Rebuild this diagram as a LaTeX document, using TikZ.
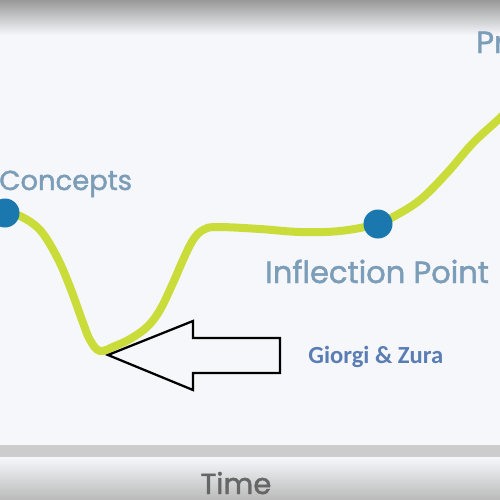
\documentclass[tikz,border=0pt]{standalone}
\usepackage{fontspec}
\usepackage{xcolor}
\usetikzlibrary{positioning}
\newfontfamily\labelfont{Poppins}[FakeBold=1.5]
\newfontfamily\notefont{Carlito}
\definecolor{paper}{HTML}{F5F7FB}
\definecolor{curvegreen}{HTML}{CADC3A}
\definecolor{dotblue}{HTML}{1A78AE}
\definecolor{labelblue}{HTML}{7B9DB7}
\definecolor{noteblue}{HTML}{5A7DB4}

\begin{document}
\begin{tikzpicture}[
  x=0.2mm, y=-0.2mm,
  phase/.style={inner sep=0, anchor=base west, text=labelblue, font=\labelfont\fontsize{17.4}{19}\selectfont},
  dot/.style={circle, fill=dotblue, inner sep=0, minimum size=5.8mm},
  curve/.style={curvegreen, line width=1.6mm, line cap=round},
  blockarrow/.style={draw=black, fill=paper, line width=0.45mm, line join=miter}
]
\useasboundingbox (0,0) rectangle (500,500);
\clip (0,0) rectangle (500,500);
% background
\fill[paper] (0,0) rectangle (500,500);
\shade[top color=black!40, bottom color=paper] (0,0) rectangle (500,35);
\fill[black!20] (0,445) rectangle (500,457);
\shade[top color=paper, bottom color=black!27] (0,457) rectangle (500,500);

% the curve
\draw[curve] plot[smooth, tension=0.6] coordinates {
  (5,213) (20,216) (40,230) (57,257) (70,287) (82,320) (90,340) (100,351)
  (115,346) (130,339) (147,327) (160,310) (173,283) (183,260) (193,240)
  (203,230) (217,227) (260,229) (300,232) (340,231) (378,224) (393,217)
  (420,200) (447,173) (473,143) (500,118) (520,98)};

\node[dot] (concepts dot) at (5,213) {};
\node[dot] (inflection dot) at (378,224) {};

% labels
\node[phase, font=\labelfont\fontsize{15.6}{17}\selectfont] (concepts) at (-1,190) {Concepts};
\node[phase] (inflection) at (265,283) {Inflection Point};
\node[phase] (pr) at (476,53) {Pr};
\node[inner sep=0, anchor=base west, text=noteblue, font=\notefont\bfseries\fontsize{14}{16}\selectfont] (names) at (308,363) {Giorgi \& Zura};
\node[inner sep=0, anchor=base, text=black!60, font=\labelfont\fontsize{16.5}{18}\selectfont] (time) at (236,494) {Time};

% pointer
\coordinate (tip) at (108,355);
\draw[blockarrow] (tip) -- (193,321) -- (193,338) -- (280,338) -- (280,373)
  -- (193,373) -- (193,390) -- cycle;
\end{tikzpicture}
\end{document}
